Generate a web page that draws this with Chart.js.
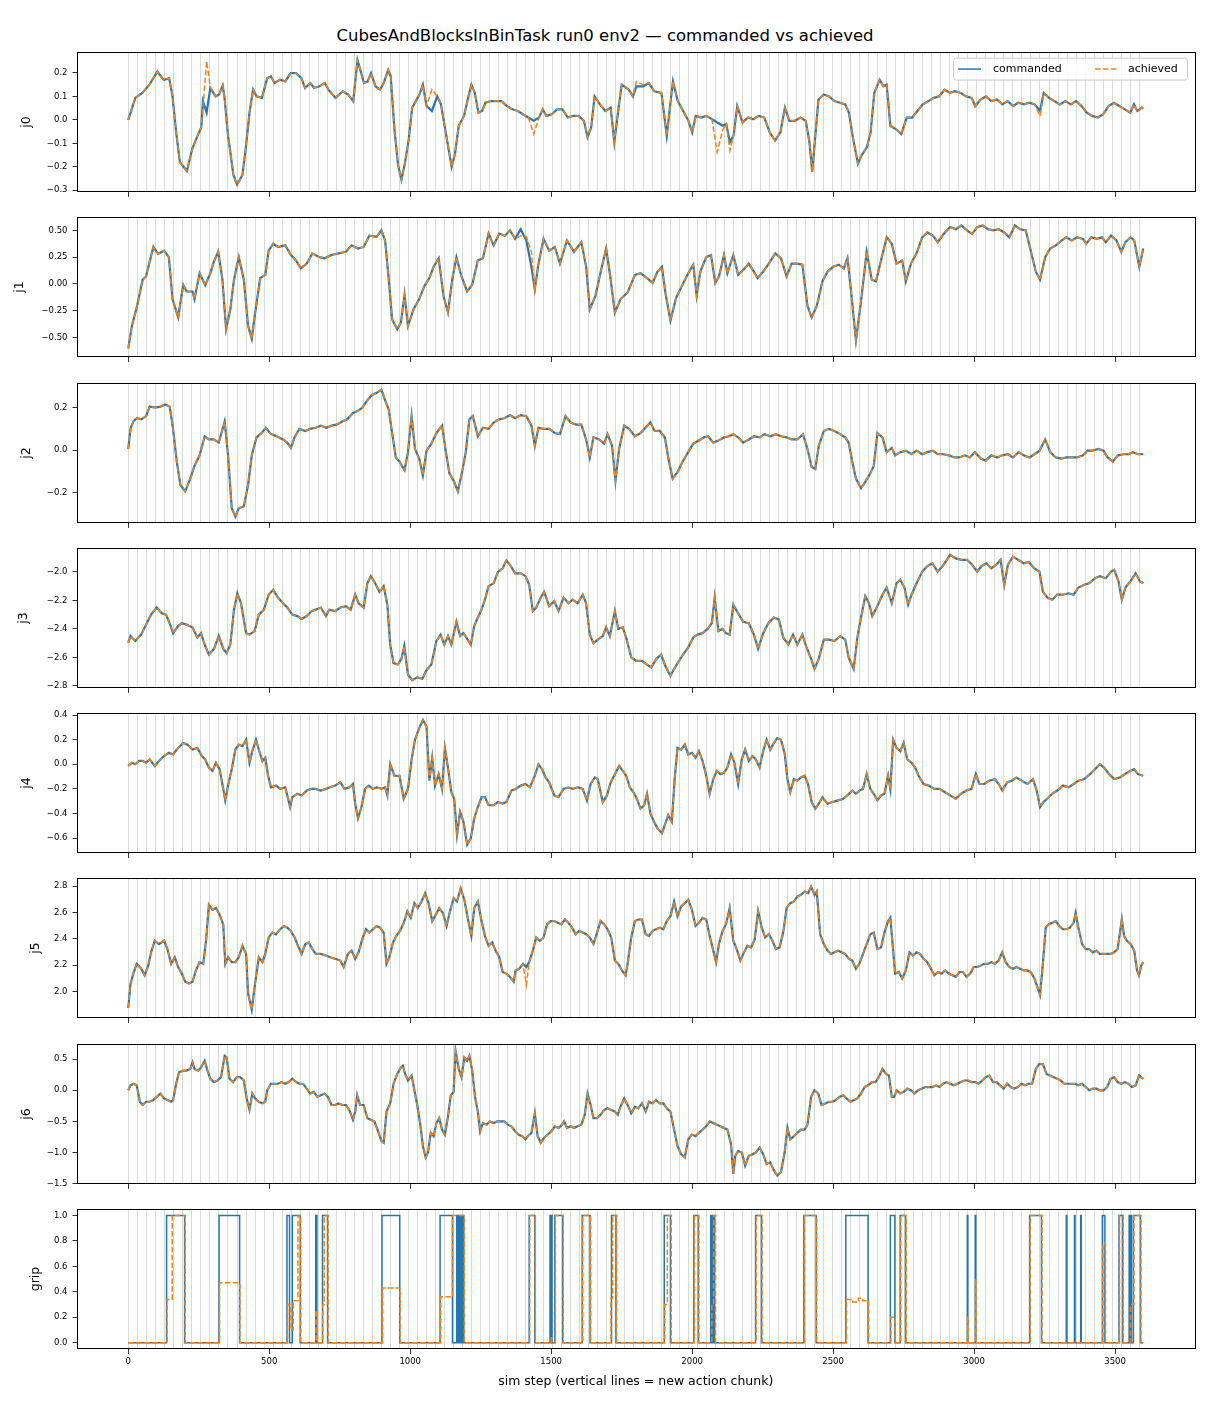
<!DOCTYPE html>
<html>
<head>
<meta charset="utf-8">
<script src="https://cdn.jsdelivr.net/npm/chart.js@4.4.1/dist/chart.umd.min.js"></script>
<style>
  body { margin: 0; background: #fff; }
  #fig { position: relative; width: 1210px; height: 1408px; font-family: 'DejaVu Sans', sans-serif; }
  #title { position: absolute; left: 0; top: 25px; width: 1210px; text-align: center; font-size: 16.5px; line-height: 22px; color: #000; }
  .panel { position: absolute; left: 0; width: 1210px; }
</style>
</head>
<body>
<div id="fig">
  <div id="title">CubesAndBlocksInBinTask run0 env2 — commanded vs achieved</div>
</div>
<script>
// x axis
const xTicks = [0, 500, 1000, 1500, 2000, 2500, 3000, 3500];
const chunkLen = 32;      // a new action chunk every 32 sim steps
const lastStep = 3600;

// [sim step, value]
const j0Commanded = [[0,0],[25,0.094],[50,0.115],[75,0.15],[103,0.206],[126,0.17],[145,0.178],[157,0.1],[170,-0.053],[183,-0.18],[208,-0.218],[227,-0.123],[246,-0.067],[259,-0.032],[265,0.08],[278,0.031],[291,0.136],[310,0.1],[322,0.108],[335,0.146],[341,0.1],[354,-0.067],[373,-0.235],[386,-0.275],[405,-0.235],[418,-0.109],[430,0.031],[443,0.129],[455,0.1],[474,0.094],[493,0.178],[506,0.185],[519,0.157],[538,0.171],[557,0.164],[576,0.199],[595,0.199],[614,0.178],[627,0.136],[646,0.157],[659,0.136],[678,0.143],[697,0.157],[710,0.129],[735,0.094],[761,0.122],[780,0.108],[798,0.08],[813,0.255],[823,0.213],[836,0.157],[849,0.164],[861,0.199],[877,0.143],[893,0.129],[906,0.157],[922,0.213],[931,0.185],[944,-0.039],[957,-0.193],[969,-0.256],[982,-0.18],[995,-0.081],[1007,0.052],[1020,0.08],[1033,0.108],[1045,0.15],[1058,0.059],[1077,0.038],[1096,0.1],[1109,0.066],[1122,-0.025],[1134,-0.109],[1147,-0.2],[1159,-0.144],[1172,-0.025],[1191,0.017],[1204,0.087],[1217,0.15],[1229,0.115],[1242,0.031],[1255,0.038],[1267,0.073],[1286,0.08],[1305,0.08],[1324,0.08],[1343,0.059],[1362,0.045],[1382,0.038],[1400,0.024],[1419,0.01],[1438,-0.004],[1457,0.01],[1470,0.045],[1483,0.017],[1502,0.024],[1521,0.045],[1540,0.045],[1559,0.01],[1578,0.017],[1597,0.017],[1616,-0.004],[1629,-0.074],[1642,-0.032],[1654,0.1],[1673,0.066],[1692,0.038],[1711,0.052],[1724,-0.095],[1737,0.031],[1750,0.15],[1775,0.129],[1790,0.1],[1802,0.143],[1827,0.143],[1846,0.157],[1866,0.122],[1891,0.115],[1910,-0.067],[1923,0.073],[1932,0.164],[1949,0.08],[1968,0.038],[1987,-0.004],[2000,-0.053],[2013,0.017],[2032,0.01],[2051,0.017],[2070,0.003],[2089,-0.011],[2109,-0.025],[2121,-0.018],[2134,-0.095],[2147,-0.067],[2160,0.059],[2179,-0.011],[2198,0.01],[2217,0.003],[2236,0.017],[2256,0.01],[2275,-0.053],[2294,-0.088],[2313,-0.053],[2329,0.052],[2345,-0.004],[2364,-0.004],[2384,0.01],[2403,-0.004],[2416,-0.095],[2426,-0.221],[2439,-0.039],[2448,0.087],[2467,0.108],[2486,0.1],[2505,0.08],[2524,0.073],[2543,0.066],[2556,0.031],[2569,-0.067],[2588,-0.186],[2601,-0.151],[2620,-0.116],[2633,-0.053],[2646,0.115],[2665,0.171],[2678,0.143],[2690,0.15],[2703,-0.025],[2722,-0.039],[2742,-0.06],[2761,0.01],[2780,0.01],[2799,0.038],[2818,0.066],[2838,0.08],[2857,0.094],[2876,0.1],[2895,0.129],[2914,0.115],[2933,0.122],[2953,0.115],[2972,0.1],[2991,0.094],[3004,0.059],[3023,0.087],[3042,0.1],[3061,0.08],[3081,0.087],[3100,0.066],[3119,0.08],[3138,0.059],[3157,0.073],[3177,0.066],[3196,0.073],[3215,0.066],[3234,0.038],[3247,0.115],[3266,0.094],[3285,0.08],[3304,0.066],[3324,0.08],[3343,0.066],[3362,0.08],[3381,0.059],[3400,0.031],[3419,0.017],[3439,0.01],[3458,0.024],[3477,0.059],[3496,0.073],[3515,0.059],[3535,0.045],[3554,0.031],[3567,0.066],[3579,0.038],[3595,0.052],[3600,0.048]];
const j0Achieved = [[0,0],[25,0.094],[50,0.115],[75,0.15],[103,0.206],[126,0.17],[145,0.178],[157,0.1],[170,-0.053],[183,-0.18],[208,-0.218],[227,-0.123],[246,-0.067],[259,-0.032],[265,0.05],[278,0.25],[291,0.14],[310,0.1],[322,0.108],[335,0.146],[341,0.1],[354,-0.067],[373,-0.235],[386,-0.275],[405,-0.235],[418,-0.109],[430,0.031],[443,0.129],[455,0.1],[474,0.094],[493,0.178],[506,0.185],[519,0.157],[538,0.171],[557,0.164],[576,0.199],[595,0.199],[614,0.178],[627,0.136],[646,0.157],[659,0.136],[678,0.143],[697,0.157],[710,0.129],[735,0.094],[761,0.122],[780,0.108],[798,0.08],[813,0.255],[823,0.213],[836,0.157],[849,0.164],[861,0.199],[877,0.143],[893,0.129],[906,0.157],[922,0.213],[931,0.185],[944,-0.039],[957,-0.193],[969,-0.256],[982,-0.18],[995,-0.081],[1007,0.052],[1020,0.08],[1033,0.108],[1045,0.15],[1058,0.059],[1077,0.13],[1096,0.1],[1109,0.066],[1122,-0.025],[1134,-0.109],[1147,-0.2],[1159,-0.144],[1172,-0.025],[1191,0.017],[1204,0.087],[1217,0.15],[1229,0.115],[1242,0.031],[1255,0.038],[1267,0.073],[1286,0.08],[1305,0.08],[1324,0.08],[1343,0.059],[1362,0.045],[1382,0.038],[1400,0.024],[1419,0.01],[1438,-0.06],[1457,0.01],[1470,0.045],[1483,0.017],[1502,0.024],[1521,0.045],[1540,0.045],[1559,0.01],[1578,0.017],[1597,0.017],[1616,-0.004],[1629,-0.074],[1642,-0.032],[1654,0.1],[1673,0.066],[1692,0.038],[1711,0.052],[1724,-0.095],[1737,0.031],[1750,0.15],[1775,0.129],[1790,0.1],[1802,0.163],[1827,0.15],[1846,0.157],[1866,0.122],[1891,0.115],[1910,-0.067],[1923,0.073],[1932,0.164],[1949,0.08],[1968,0.038],[1987,-0.004],[2000,-0.053],[2013,0.017],[2032,0.01],[2051,0.017],[2070,0.003],[2089,-0.137],[2109,-0.04],[2121,-0.018],[2134,-0.13],[2147,-0.067],[2160,0.059],[2179,-0.011],[2198,0.01],[2217,0.003],[2236,0.017],[2256,0.01],[2275,-0.053],[2294,-0.088],[2313,-0.053],[2329,0.052],[2345,-0.004],[2364,-0.004],[2384,0.01],[2403,-0.004],[2416,-0.095],[2426,-0.221],[2439,-0.039],[2448,0.087],[2467,0.108],[2486,0.1],[2505,0.08],[2524,0.073],[2543,0.066],[2556,0.031],[2569,-0.067],[2588,-0.186],[2601,-0.151],[2620,-0.116],[2633,-0.053],[2646,0.115],[2665,0.171],[2678,0.143],[2690,0.15],[2703,-0.025],[2722,-0.039],[2742,-0.06],[2761,0.01],[2780,0.01],[2799,0.038],[2818,0.066],[2838,0.08],[2857,0.094],[2876,0.1],[2895,0.129],[2914,0.115],[2933,0.122],[2953,0.115],[2972,0.1],[2991,0.094],[3004,0.059],[3023,0.087],[3042,0.1],[3061,0.08],[3081,0.087],[3100,0.066],[3119,0.08],[3138,0.059],[3157,0.073],[3177,0.066],[3196,0.073],[3215,0.066],[3234,0.017],[3247,0.115],[3266,0.094],[3285,0.08],[3304,0.066],[3324,0.08],[3343,0.066],[3362,0.08],[3381,0.059],[3400,0.031],[3419,0.017],[3439,0.01],[3458,0.024],[3477,0.059],[3496,0.073],[3515,0.059],[3535,0.045],[3554,0.031],[3567,0.066],[3579,0.038],[3595,0.052],[3600,0.048]];

const j1Commanded = [[0,-0.6],[13,-0.39],[30,-0.22],[51,0.04],[63,0.07],[76,0.21],[89,0.345],[106,0.28],[127,0.31],[144,0.25],[157,-0.14],[177,-0.31],[195,-0.01],[207,-0.07],[228,-0.07],[235,-0.14],[253,0.1],[273,-0.01],[291,0.1],[304,0.21],[319,0.3],[334,0.04],[347,-0.42],[362,-0.235],[375,0.04],[392,0.25],[410,0.04],[425,-0.39],[438,-0.51],[450,-0.27],[468,0.055],[486,0.085],[498,0.31],[514,0.375],[531,0.345],[557,0.36],[577,0.27],[595,0.22],[612,0.145],[633,0.19],[653,0.285],[678,0.25],[696,0.24],[721,0.27],[746,0.285],[772,0.3],[792,0.36],[815,0.33],[835,0.345],[855,0.45],[881,0.44],[898,0.5],[911,0.405],[924,0.04],[936,-0.33],[954,-0.42],[967,-0.36],[980,-0.1],[992,-0.39],[1012,-0.235],[1032,-0.14],[1050,-0.02],[1068,0.055],[1083,0.16],[1101,0.24],[1118,-0.11],[1134,-0.265],[1149,0.04],[1164,0.25],[1182,0.07],[1202,-0.07],[1220,-0.006],[1240,0.22],[1258,0.24],[1278,0.47],[1296,0.36],[1316,0.47],[1336,0.45],[1354,0.5],[1372,0.42],[1392,0.51],[1412,0.405],[1430,0.16],[1442,-0.05],[1455,0.19],[1473,0.42],[1493,0.31],[1513,0.345],[1531,0.19],[1556,0.405],[1581,0.3],[1607,0.39],[1624,0.16],[1637,-0.235],[1657,-0.11],[1677,0.13],[1695,0.33],[1708,0.1],[1726,-0.265],[1746,-0.14],[1771,-0.08],[1797,0.085],[1817,0.1],[1840,0.055],[1860,0.01],[1877,0.115],[1893,0.16],[1905,-0.08],[1923,-0.34],[1943,-0.13],[1966,-0.006],[1986,0.1],[2004,0.18],[2016,-0.11],[2029,0.115],[2050,0.25],[2067,0.27],[2082,0.01],[2095,0.07],[2113,0.27],[2125,0.1],[2146,0.27],[2163,0.085],[2181,0.13],[2201,0.19],[2219,0.115],[2232,0.055],[2252,0.115],[2272,0.19],[2295,0.285],[2315,0.24],[2335,0.07],[2353,0.19],[2373,0.19],[2391,0.18],[2409,-0.205],[2424,-0.31],[2442,-0.205],[2462,0.025],[2480,0.115],[2500,0.16],[2520,0.18],[2538,0.145],[2551,0.24],[2563,-0.05],[2581,-0.525],[2599,-0.16],[2619,0.3],[2637,0.04],[2652,0.025],[2670,0.22],[2690,0.435],[2708,0.375],[2725,0.19],[2745,0.22],[2758,0.025],[2776,0.19],[2796,0.285],[2816,0.435],[2834,0.48],[2854,0.45],[2871,0.39],[2892,0.465],[2915,0.53],[2935,0.51],[2955,0.545],[2975,0.5],[2993,0.465],[3011,0.53],[3031,0.545],[3049,0.51],[3069,0.5],[3087,0.51],[3107,0.48],[3125,0.435],[3145,0.545],[3163,0.51],[3183,0.5],[3201,0.31],[3219,0.115],[3234,0.04],[3252,0.25],[3270,0.33],[3290,0.36],[3310,0.405],[3327,0.435],[3347,0.405],[3365,0.435],[3386,0.42],[3398,0.375],[3416,0.435],[3436,0.42],[3454,0.435],[3467,0.39],[3486,0.45],[3505,0.405],[3522,0.3],[3537,0.39],[3555,0.435],[3568,0.405],[3586,0.16],[3600,0.33]];
const j1Achieved = [[0,-0.6],[13,-0.39],[30,-0.22],[51,0.04],[63,0.07],[76,0.21],[89,0.345],[106,0.28],[127,0.31],[144,0.25],[157,-0.14],[177,-0.31],[195,-0.01],[207,-0.07],[228,-0.07],[235,-0.14],[253,0.1],[273,-0.01],[291,0.1],[304,0.21],[319,0.3],[334,0.04],[347,-0.42],[362,-0.235],[375,0.04],[392,0.25],[410,0.04],[425,-0.39],[438,-0.51],[450,-0.27],[468,0.055],[486,0.085],[498,0.31],[514,0.375],[531,0.345],[557,0.36],[577,0.27],[595,0.22],[612,0.145],[633,0.19],[653,0.285],[678,0.25],[696,0.24],[721,0.27],[746,0.285],[772,0.3],[792,0.36],[815,0.33],[835,0.345],[855,0.45],[881,0.44],[898,0.5],[911,0.405],[924,0.04],[936,-0.33],[954,-0.42],[967,-0.36],[980,-0.1],[992,-0.39],[1012,-0.235],[1032,-0.14],[1050,-0.02],[1068,0.055],[1083,0.16],[1101,0.24],[1118,-0.11],[1134,-0.265],[1149,0.04],[1164,0.25],[1182,0.07],[1202,-0.07],[1220,-0.006],[1240,0.22],[1258,0.24],[1278,0.47],[1296,0.36],[1316,0.47],[1336,0.45],[1354,0.5],[1372,0.42],[1392,0.45],[1412,0.44],[1430,0.3],[1442,-0.05],[1455,0.19],[1473,0.42],[1493,0.31],[1513,0.345],[1531,0.19],[1556,0.405],[1581,0.3],[1607,0.39],[1624,0.16],[1637,-0.235],[1657,-0.11],[1677,0.13],[1695,0.33],[1708,0.1],[1726,-0.265],[1746,-0.14],[1771,-0.08],[1797,0.085],[1817,0.1],[1840,0.055],[1860,0.01],[1877,0.115],[1893,0.16],[1905,-0.08],[1923,-0.34],[1943,-0.13],[1966,-0.006],[1986,0.1],[2004,0.18],[2016,-0.11],[2029,0.115],[2050,0.25],[2067,0.27],[2082,0.01],[2095,0.07],[2113,0.27],[2125,0.1],[2146,0.27],[2163,0.085],[2181,0.13],[2201,0.19],[2219,0.115],[2232,0.055],[2252,0.115],[2272,0.19],[2295,0.285],[2315,0.24],[2335,0.07],[2353,0.19],[2373,0.19],[2391,0.18],[2409,-0.205],[2424,-0.31],[2442,-0.205],[2462,0.025],[2480,0.115],[2500,0.16],[2520,0.18],[2538,0.145],[2551,0.24],[2563,-0.05],[2581,-0.525],[2599,-0.16],[2619,0.3],[2637,0.04],[2652,0.025],[2670,0.22],[2690,0.435],[2708,0.375],[2725,0.19],[2745,0.22],[2758,0.025],[2776,0.19],[2796,0.285],[2816,0.435],[2834,0.48],[2854,0.45],[2871,0.39],[2892,0.465],[2915,0.53],[2935,0.51],[2955,0.545],[2975,0.5],[2993,0.465],[3011,0.53],[3031,0.545],[3049,0.51],[3069,0.5],[3087,0.51],[3107,0.48],[3125,0.435],[3145,0.545],[3163,0.51],[3183,0.5],[3201,0.31],[3219,0.115],[3234,0.04],[3252,0.25],[3270,0.33],[3290,0.36],[3310,0.405],[3327,0.435],[3347,0.405],[3365,0.435],[3386,0.42],[3398,0.375],[3416,0.435],[3436,0.42],[3454,0.435],[3467,0.39],[3486,0.45],[3505,0.405],[3522,0.3],[3537,0.39],[3555,0.435],[3568,0.405],[3586,0.16],[3600,0.33]];

const j2Commanded = [[0,0.005],[8,0.1],[18,0.135],[30,0.15],[46,0.145],[63,0.16],[76,0.205],[96,0.2],[114,0.205],[132,0.215],[147,0.205],[159,0.1],[172,-0.055],[185,-0.165],[202,-0.195],[220,-0.135],[235,-0.075],[253,-0.025],[271,0.065],[286,0.05],[304,0.05],[321,0.035],[342,0.135],[354,-0.025],[367,-0.275],[380,-0.315],[392,-0.275],[410,-0.265],[425,-0.165],[438,-0.025],[455,0.06],[473,0.08],[488,0.105],[506,0.075],[526,0.065],[549,0.05],[564,0.035],[577,0.01],[590,0.06],[607,0.1],[628,0.09],[645,0.1],[665,0.105],[683,0.115],[703,0.105],[721,0.115],[739,0.12],[759,0.135],[777,0.145],[797,0.175],[815,0.185],[830,0.2],[848,0.235],[865,0.26],[881,0.27],[898,0.285],[911,0.235],[924,0.19],[936,0.08],[949,-0.035],[962,-0.055],[980,-0.095],[992,-0.01],[1005,0.16],[1017,0.005],[1032,-0.04],[1045,-0.12],[1058,-0.003],[1075,0.03],[1093,0.08],[1113,0.115],[1126,-0.003],[1139,-0.11],[1156,-0.15],[1169,-0.195],[1184,-0.105],[1197,-0.01],[1210,0.145],[1222,0.16],[1240,0.065],[1258,0.105],[1278,0.1],[1296,0.13],[1316,0.145],[1334,0.15],[1354,0.165],[1372,0.15],[1392,0.165],[1412,0.16],[1430,0.115],[1442,0.02],[1455,0.105],[1473,0.1],[1493,0.1],[1513,0.08],[1531,0.075],[1551,0.16],[1569,0.13],[1589,0.12],[1607,0.12],[1624,0.05],[1637,-0.035],[1650,0.06],[1670,0.05],[1688,0.03],[1700,0.075],[1716,0.02],[1728,-0.145],[1741,0.005],[1759,0.115],[1776,0.1],[1797,0.065],[1817,0.08],[1834,0.105],[1852,0.13],[1867,0.09],[1885,0.09],[1903,0.06],[1918,-0.055],[1931,-0.135],[1948,-0.105],[1966,-0.055],[1986,-0.01],[2004,0.03],[2024,0.045],[2042,0.06],[2057,0.065],[2075,0.035],[2093,0.045],[2113,0.06],[2131,0.065],[2146,0.075],[2163,0.06],[2181,0.035],[2201,0.05],[2219,0.065],[2239,0.06],[2257,0.075],[2277,0.065],[2297,0.075],[2315,0.065],[2335,0.06],[2353,0.05],[2373,0.05],[2393,0.075],[2409,0.005],[2424,-0.08],[2437,-0.09],[2449,0.02],[2467,0.09],[2485,0.1],[2505,0.09],[2525,0.075],[2543,0.06],[2555,0.035],[2568,-0.055],[2581,-0.135],[2599,-0.18],[2614,-0.15],[2632,-0.11],[2644,-0.075],[2657,0.08],[2675,0.06],[2690,-0.01],[2708,0.01],[2720,-0.025],[2738,-0.01],[2758,-0.003],[2778,-0.02],[2796,-0.003],[2816,-0.02],[2834,-0.01],[2854,-0.003],[2871,-0.02],[2892,-0.02],[2910,-0.025],[2930,-0.035],[2947,-0.035],[2968,-0.025],[2985,-0.035],[3003,-0.01],[3024,-0.04],[3041,-0.05],[3061,-0.025],[3082,-0.035],[3099,-0.025],[3120,-0.02],[3138,-0.035],[3158,-0.01],[3176,-0.025],[3196,-0.035],[3214,-0.02],[3232,-0.003],[3252,0.05],[3270,-0.01],[3290,-0.035],[3310,-0.04],[3327,-0.035],[3347,-0.035],[3365,-0.035],[3386,-0.025],[3403,-0.003],[3421,-0.003],[3441,0.005],[3459,-0.003],[3474,-0.035],[3492,-0.055],[3510,-0.025],[3530,-0.02],[3548,-0.02],[3563,-0.01],[3581,-0.02],[3600,-0.02]];
const j2Achieved = [[0,0.005],[8,0.1],[18,0.135],[30,0.15],[46,0.145],[63,0.16],[76,0.205],[96,0.2],[114,0.205],[132,0.215],[147,0.205],[159,0.1],[172,-0.055],[185,-0.165],[202,-0.195],[220,-0.135],[235,-0.075],[253,-0.025],[271,0.065],[286,0.05],[304,0.05],[321,0.035],[342,0.135],[354,-0.025],[367,-0.275],[380,-0.315],[392,-0.275],[410,-0.265],[425,-0.165],[438,-0.025],[455,0.06],[473,0.08],[488,0.105],[506,0.075],[526,0.065],[549,0.05],[564,0.035],[577,0.01],[590,0.06],[607,0.1],[628,0.09],[645,0.1],[665,0.105],[683,0.115],[703,0.105],[721,0.115],[739,0.12],[759,0.135],[777,0.145],[797,0.175],[815,0.185],[830,0.2],[848,0.235],[865,0.26],[881,0.27],[898,0.285],[911,0.235],[924,0.19],[936,0.08],[949,-0.035],[962,-0.055],[980,-0.095],[992,-0.01],[1005,0.16],[1017,0.005],[1032,-0.04],[1045,-0.12],[1058,-0.003],[1075,0.03],[1093,0.08],[1113,0.115],[1126,-0.003],[1139,-0.11],[1156,-0.15],[1169,-0.195],[1184,-0.105],[1197,-0.01],[1210,0.145],[1222,0.16],[1240,0.065],[1258,0.105],[1278,0.1],[1296,0.13],[1316,0.145],[1334,0.15],[1354,0.165],[1372,0.15],[1392,0.165],[1412,0.16],[1430,0.115],[1442,0.02],[1455,0.105],[1473,0.1],[1493,0.1],[1513,0.08],[1531,0.075],[1551,0.16],[1569,0.13],[1589,0.12],[1607,0.12],[1624,0.05],[1637,-0.035],[1650,0.06],[1670,0.05],[1688,0.03],[1700,0.075],[1716,0.02],[1728,-0.145],[1741,0.005],[1759,0.115],[1776,0.1],[1797,0.065],[1817,0.08],[1834,0.105],[1852,0.13],[1867,0.09],[1885,0.09],[1903,0.06],[1918,-0.055],[1931,-0.135],[1948,-0.105],[1966,-0.055],[1986,-0.01],[2004,0.03],[2024,0.045],[2042,0.06],[2057,0.065],[2075,0.035],[2093,0.045],[2113,0.06],[2131,0.065],[2146,0.075],[2163,0.06],[2181,0.035],[2201,0.05],[2219,0.065],[2239,0.06],[2257,0.075],[2277,0.065],[2297,0.075],[2315,0.065],[2335,0.06],[2353,0.05],[2373,0.05],[2393,0.075],[2409,0.005],[2424,-0.08],[2437,-0.09],[2449,0.02],[2467,0.09],[2485,0.1],[2505,0.09],[2525,0.075],[2543,0.06],[2555,0.035],[2568,-0.055],[2581,-0.135],[2599,-0.18],[2614,-0.15],[2632,-0.11],[2644,-0.075],[2657,0.08],[2675,0.06],[2690,-0.01],[2708,0.01],[2720,-0.025],[2738,-0.01],[2758,-0.003],[2778,-0.02],[2796,-0.003],[2816,-0.02],[2834,-0.01],[2854,-0.003],[2871,-0.02],[2892,-0.02],[2910,-0.025],[2930,-0.035],[2947,-0.035],[2968,-0.025],[2985,-0.035],[3003,-0.01],[3024,-0.04],[3041,-0.05],[3061,-0.025],[3082,-0.035],[3099,-0.025],[3120,-0.02],[3138,-0.035],[3158,-0.01],[3176,-0.025],[3196,-0.035],[3214,-0.02],[3232,-0.003],[3252,0.05],[3270,-0.01],[3290,-0.035],[3310,-0.04],[3327,-0.035],[3347,-0.035],[3365,-0.035],[3386,-0.025],[3403,-0.003],[3421,-0.003],[3441,0.005],[3459,-0.003],[3474,-0.035],[3492,-0.055],[3510,-0.025],[3530,-0.02],[3548,-0.02],[3563,-0.01],[3581,-0.02],[3600,-0.02]];

const j3Commanded = [[0,-2.497],[8,-2.45],[25,-2.485],[46,-2.44],[63,-2.37],[81,-2.3],[101,-2.25],[119,-2.29],[134,-2.3],[147,-2.36],[159,-2.43],[177,-2.38],[190,-2.36],[207,-2.37],[228,-2.39],[245,-2.46],[258,-2.43],[273,-2.52],[286,-2.58],[304,-2.54],[321,-2.45],[337,-2.54],[349,-2.57],[362,-2.51],[375,-2.265],[387,-2.15],[400,-2.22],[418,-2.43],[430,-2.44],[448,-2.415],[463,-2.3],[481,-2.265],[498,-2.16],[514,-2.125],[531,-2.18],[549,-2.22],[564,-2.25],[582,-2.3],[600,-2.31],[615,-2.33],[633,-2.31],[650,-2.275],[665,-2.265],[683,-2.25],[701,-2.31],[713,-2.265],[734,-2.275],[752,-2.25],[772,-2.24],[789,-2.265],[805,-2.16],[817,-2.22],[835,-2.25],[848,-2.08],[860,-2.03],[873,-2.07],[891,-2.14],[906,-2.1],[919,-2.23],[929,-2.51],[941,-2.64],[956,-2.65],[969,-2.61],[979,-2.52],[992,-2.72],[1007,-2.76],[1025,-2.74],[1043,-2.75],[1058,-2.69],[1075,-2.65],[1093,-2.485],[1108,-2.44],[1121,-2.51],[1134,-2.45],[1146,-2.51],[1164,-2.35],[1177,-2.45],[1189,-2.43],[1202,-2.47],[1215,-2.51],[1227,-2.38],[1240,-2.32],[1253,-2.265],[1265,-2.195],[1278,-2.1],[1296,-2.08],[1311,-2],[1328,-1.975],[1341,-1.92],[1354,-1.95],[1372,-2.01],[1392,-2.01],[1409,-2.03],[1422,-2.09],[1435,-2.275],[1447,-2.25],[1463,-2.18],[1475,-2.14],[1493,-2.24],[1511,-2.205],[1526,-2.275],[1544,-2.18],[1561,-2.22],[1576,-2.195],[1594,-2.22],[1612,-2.16],[1624,-2.22],[1637,-2.44],[1650,-2.5],[1665,-2.475],[1683,-2.45],[1695,-2.39],[1708,-2.45],[1726,-2.275],[1738,-2.4],[1754,-2.39],[1766,-2.46],[1784,-2.6],[1802,-2.625],[1822,-2.625],[1840,-2.65],[1855,-2.67],[1873,-2.61],[1890,-2.58],[1905,-2.66],[1923,-2.73],[1936,-2.68],[1953,-2.625],[1968,-2.58],[1986,-2.53],[2004,-2.46],[2019,-2.44],[2037,-2.43],[2055,-2.4],[2070,-2.36],[2080,-2.18],[2093,-2.415],[2108,-2.4],[2120,-2.43],[2133,-2.44],[2146,-2.23],[2163,-2.29],[2181,-2.35],[2201,-2.36],[2219,-2.44],[2234,-2.54],[2252,-2.43],[2270,-2.36],[2290,-2.32],[2308,-2.335],[2323,-2.46],[2341,-2.51],[2358,-2.44],[2373,-2.51],[2391,-2.44],[2404,-2.52],[2422,-2.61],[2434,-2.68],[2449,-2.61],[2467,-2.475],[2485,-2.475],[2505,-2.485],[2525,-2.45],[2543,-2.475],[2555,-2.6],[2573,-2.68],[2586,-2.46],[2599,-2.32],[2614,-2.17],[2627,-2.22],[2639,-2.31],[2657,-2.24],[2675,-2.16],[2690,-2.11],[2708,-2.22],[2725,-2.08],[2738,-2.055],[2753,-2.11],[2766,-2.23],[2778,-2.16],[2796,-2.08],[2816,-1.998],[2834,-1.96],[2852,-1.94],[2871,-1.998],[2892,-1.95],[2915,-1.88],[2935,-1.905],[2955,-1.915],[2975,-1.915],[2993,-1.95],[3011,-1.998],[3026,-1.96],[3044,-1.94],[3061,-1.975],[3079,-1.95],[3094,-1.915],[3107,-2.09],[3120,-1.95],[3138,-1.893],[3156,-1.915],[3176,-1.94],[3194,-1.93],[3214,-1.975],[3232,-1.998],[3244,-2.14],[3260,-2.18],[3277,-2.195],[3295,-2.16],[3315,-2.16],[3335,-2.15],[3353,-2.16],[3370,-2.11],[3391,-2.09],[3408,-2.08],[3429,-2.045],[3446,-2.03],[3467,-2.045],[3486,-1.998],[3497,-1.986],[3512,-2.065],[3524,-2.195],[3537,-2.11],[3555,-2.065],[3573,-2.01],[3588,-2.065],[3600,-2.08]];
const j3Achieved = [[0,-2.497],[8,-2.45],[25,-2.485],[46,-2.44],[63,-2.37],[81,-2.3],[101,-2.25],[119,-2.29],[134,-2.3],[147,-2.36],[159,-2.43],[177,-2.38],[190,-2.36],[207,-2.37],[228,-2.39],[245,-2.46],[258,-2.43],[273,-2.52],[286,-2.58],[304,-2.54],[321,-2.45],[337,-2.54],[349,-2.57],[362,-2.51],[375,-2.265],[387,-2.15],[400,-2.22],[418,-2.43],[430,-2.44],[448,-2.415],[463,-2.3],[481,-2.265],[498,-2.16],[514,-2.125],[531,-2.18],[549,-2.22],[564,-2.25],[582,-2.3],[600,-2.31],[615,-2.33],[633,-2.31],[650,-2.275],[665,-2.265],[683,-2.25],[701,-2.31],[713,-2.265],[734,-2.275],[752,-2.25],[772,-2.24],[789,-2.265],[805,-2.16],[817,-2.22],[835,-2.25],[848,-2.08],[860,-2.03],[873,-2.07],[891,-2.14],[906,-2.1],[919,-2.23],[929,-2.51],[941,-2.64],[956,-2.65],[969,-2.61],[979,-2.52],[992,-2.72],[1007,-2.76],[1025,-2.74],[1043,-2.75],[1058,-2.69],[1075,-2.65],[1093,-2.485],[1108,-2.44],[1121,-2.51],[1134,-2.45],[1146,-2.51],[1164,-2.35],[1177,-2.45],[1189,-2.43],[1202,-2.47],[1215,-2.51],[1227,-2.38],[1240,-2.32],[1253,-2.265],[1265,-2.195],[1278,-2.1],[1296,-2.08],[1311,-2],[1328,-1.975],[1341,-1.92],[1354,-1.95],[1372,-2.01],[1392,-2.01],[1409,-2.03],[1422,-2.09],[1435,-2.275],[1447,-2.25],[1463,-2.18],[1475,-2.14],[1493,-2.24],[1511,-2.205],[1526,-2.275],[1544,-2.18],[1561,-2.22],[1576,-2.195],[1594,-2.22],[1612,-2.16],[1624,-2.22],[1637,-2.44],[1650,-2.5],[1665,-2.475],[1683,-2.45],[1695,-2.39],[1708,-2.45],[1726,-2.275],[1738,-2.4],[1754,-2.39],[1766,-2.46],[1784,-2.6],[1802,-2.625],[1822,-2.625],[1840,-2.65],[1855,-2.67],[1873,-2.61],[1890,-2.58],[1905,-2.66],[1923,-2.73],[1936,-2.68],[1953,-2.625],[1968,-2.58],[1986,-2.53],[2004,-2.46],[2019,-2.44],[2037,-2.43],[2055,-2.4],[2070,-2.36],[2080,-2.18],[2093,-2.415],[2108,-2.4],[2120,-2.43],[2133,-2.44],[2146,-2.23],[2163,-2.29],[2181,-2.35],[2201,-2.36],[2219,-2.44],[2234,-2.54],[2252,-2.43],[2270,-2.36],[2290,-2.32],[2308,-2.335],[2323,-2.46],[2341,-2.51],[2358,-2.44],[2373,-2.51],[2391,-2.44],[2404,-2.52],[2422,-2.61],[2434,-2.68],[2449,-2.61],[2467,-2.475],[2485,-2.475],[2505,-2.485],[2525,-2.45],[2543,-2.475],[2555,-2.6],[2573,-2.68],[2586,-2.46],[2599,-2.32],[2614,-2.17],[2627,-2.22],[2639,-2.31],[2657,-2.24],[2675,-2.16],[2690,-2.11],[2708,-2.22],[2725,-2.08],[2738,-2.055],[2753,-2.11],[2766,-2.23],[2778,-2.16],[2796,-2.08],[2816,-1.998],[2834,-1.96],[2852,-1.94],[2871,-1.998],[2892,-1.95],[2915,-1.88],[2935,-1.905],[2955,-1.915],[2975,-1.915],[2993,-1.95],[3011,-1.998],[3026,-1.96],[3044,-1.94],[3061,-1.975],[3079,-1.95],[3094,-1.915],[3107,-2.09],[3120,-1.95],[3138,-1.893],[3156,-1.915],[3176,-1.94],[3194,-1.93],[3214,-1.975],[3232,-1.998],[3244,-2.14],[3260,-2.18],[3277,-2.195],[3295,-2.16],[3315,-2.16],[3335,-2.15],[3353,-2.16],[3370,-2.11],[3391,-2.09],[3408,-2.08],[3429,-2.045],[3446,-2.03],[3467,-2.045],[3486,-1.998],[3497,-1.986],[3512,-2.065],[3524,-2.195],[3537,-2.11],[3555,-2.065],[3573,-2.01],[3588,-2.065],[3600,-2.08]];

const j4Commanded = [[0,-0.013],[13,0.013],[25,0],[38,0.027],[51,0.027],[63,0.013],[76,0.04],[94,-0.013],[109,0.027],[127,0.067],[144,0.093],[159,0.08],[177,0.133],[195,0.173],[210,0.16],[228,0.12],[245,0.133],[261,0.067],[273,0.04],[286,-0.027],[299,-0.053],[311,0.013],[324,-0.04],[337,-0.2],[344,-0.293],[354,-0.173],[367,-0.04],[380,0.12],[392,0.16],[405,0.147],[418,0.2],[430,0.013],[440,0.107],[453,0.2],[463,0.12],[476,0.027],[486,0.053],[496,-0.093],[506,-0.187],[524,-0.173],[539,-0.2],[557,-0.187],[574,-0.347],[582,-0.267],[600,-0.24],[615,-0.253],[633,-0.213],[650,-0.2],[665,-0.2],[683,-0.213],[701,-0.2],[716,-0.187],[734,-0.173],[752,-0.147],[767,-0.2],[785,-0.187],[797,-0.16],[805,-0.32],[815,-0.44],[827,-0.347],[840,-0.2],[853,-0.173],[868,-0.2],[881,-0.187],[898,-0.2],[911,-0.187],[919,-0.253],[929,0],[944,-0.093],[962,-0.093],[977,-0.28],[992,-0.2],[1005,0.04],[1017,0.2],[1032,0.293],[1045,0.36],[1058,0.307],[1068,-0.133],[1078,0.053],[1088,-0.173],[1101,-0.08],[1113,-0.2],[1123,0.133],[1134,-0.027],[1146,-0.227],[1156,-0.28],[1166,-0.573],[1177,-0.387],[1189,-0.467],[1202,-0.653],[1215,-0.6],[1227,-0.44],[1240,-0.347],[1253,-0.267],[1265,-0.267],[1278,-0.333],[1296,-0.333],[1311,-0.307],[1328,-0.32],[1341,-0.307],[1359,-0.213],[1374,-0.2],[1392,-0.173],[1409,-0.16],[1425,-0.187],[1442,-0.093],[1455,0],[1468,-0.04],[1480,-0.107],[1493,-0.147],[1511,-0.253],[1526,-0.267],[1544,-0.2],[1561,-0.187],[1576,-0.2],[1594,-0.187],[1612,-0.2],[1627,-0.293],[1640,-0.16],[1655,-0.107],[1665,-0.12],[1683,-0.307],[1698,-0.253],[1711,-0.147],[1726,-0.08],[1741,-0.013],[1754,-0.053],[1766,-0.093],[1779,-0.187],[1792,-0.227],[1804,-0.28],[1817,-0.36],[1830,-0.333],[1840,-0.24],[1852,-0.4],[1865,-0.467],[1877,-0.52],[1893,-0.56],[1905,-0.48],[1915,-0.413],[1928,-0.467],[1938,-0.12],[1948,0.133],[1961,0.12],[1974,0.16],[1986,0.08],[1999,0.093],[2012,0.053],[2024,0.107],[2037,0.027],[2050,-0.093],[2062,-0.24],[2075,-0.12],[2088,-0.053],[2100,-0.08],[2113,-0.067],[2125,-0.027],[2138,0.08],[2150,0.013],[2163,-0.16],[2176,0.04],[2188,0.12],[2201,0.027],[2214,0.067],[2226,0.04],[2239,-0.027],[2252,0.107],[2264,0.2],[2277,0.12],[2290,0.173],[2302,0.213],[2315,0.2],[2328,0.093],[2338,-0.12],[2348,-0.227],[2361,-0.12],[2373,-0.133],[2386,-0.107],[2399,-0.093],[2411,-0.16],[2424,-0.307],[2437,-0.36],[2449,-0.32],[2462,-0.267],[2480,-0.32],[2498,-0.307],[2518,-0.293],[2536,-0.28],[2556,-0.24],[2568,-0.213],[2581,-0.24],[2594,-0.213],[2606,-0.2],[2619,-0.08],[2632,-0.2],[2644,-0.24],[2657,-0.293],[2670,-0.253],[2682,-0.24],[2695,-0.093],[2703,-0.2],[2713,0.2],[2725,0.133],[2738,0.107],[2750,0.173],[2763,0.04],[2778,0.013],[2791,-0.027],[2803,-0.093],[2821,-0.16],[2839,-0.173],[2859,-0.2],[2877,-0.2],[2897,-0.227],[2915,-0.253],[2935,-0.28],[2953,-0.24],[2973,-0.213],[2991,-0.2],[3006,-0.08],[3019,-0.16],[3036,-0.16],[3054,-0.133],[3074,-0.12],[3087,-0.16],[3100,-0.213],[3117,-0.147],[3133,-0.133],[3150,-0.107],[3168,-0.133],[3189,-0.16],[3209,-0.12],[3222,-0.213],[3234,-0.347],[3246,-0.307],[3259,-0.28],[3277,-0.24],[3295,-0.213],[3315,-0.173],[3335,-0.187],[3353,-0.16],[3370,-0.133],[3391,-0.12],[3411,-0.08],[3429,-0.04],[3446,0],[3461,-0.027],[3479,-0.08],[3497,-0.12],[3517,-0.107],[3535,-0.08],[3555,-0.053],[3568,-0.04],[3581,-0.08],[3600,-0.093]];
const j4Achieved = [[0,-0.013],[13,0.013],[25,0],[38,0.027],[51,0.027],[63,0.013],[76,0.04],[94,-0.013],[109,0.027],[127,0.067],[144,0.093],[159,0.08],[177,0.133],[195,0.173],[210,0.16],[228,0.12],[245,0.133],[261,0.067],[273,0.04],[286,-0.027],[299,-0.053],[311,0.013],[324,-0.04],[337,-0.2],[344,-0.293],[354,-0.173],[367,-0.04],[380,0.12],[392,0.16],[405,0.147],[418,0.2],[430,0.013],[440,0.107],[453,0.2],[463,0.12],[476,0.027],[486,0.053],[496,-0.093],[506,-0.187],[524,-0.173],[539,-0.2],[557,-0.187],[574,-0.347],[582,-0.267],[600,-0.24],[615,-0.253],[633,-0.213],[650,-0.2],[665,-0.2],[683,-0.213],[701,-0.2],[716,-0.187],[734,-0.173],[752,-0.147],[767,-0.2],[785,-0.187],[797,-0.16],[805,-0.32],[815,-0.44],[827,-0.347],[840,-0.2],[853,-0.173],[868,-0.2],[881,-0.187],[898,-0.2],[911,-0.187],[919,-0.253],[929,0],[944,-0.093],[962,-0.093],[977,-0.28],[992,-0.2],[1005,0.04],[1017,0.2],[1032,0.293],[1045,0.36],[1058,0.307],[1068,-0.133],[1078,0.053],[1088,-0.173],[1101,-0.08],[1113,-0.2],[1123,0.133],[1134,-0.027],[1146,-0.227],[1156,-0.28],[1166,-0.573],[1177,-0.387],[1189,-0.467],[1202,-0.653],[1215,-0.6],[1227,-0.44],[1240,-0.347],[1253,-0.267],[1265,-0.267],[1278,-0.333],[1296,-0.333],[1311,-0.307],[1328,-0.32],[1341,-0.307],[1359,-0.213],[1374,-0.2],[1392,-0.173],[1409,-0.16],[1425,-0.187],[1442,-0.093],[1455,0],[1468,-0.04],[1480,-0.107],[1493,-0.147],[1511,-0.253],[1526,-0.267],[1544,-0.2],[1561,-0.187],[1576,-0.2],[1594,-0.187],[1612,-0.2],[1627,-0.293],[1640,-0.16],[1655,-0.107],[1665,-0.12],[1683,-0.307],[1698,-0.253],[1711,-0.147],[1726,-0.08],[1741,-0.013],[1754,-0.053],[1766,-0.093],[1779,-0.187],[1792,-0.227],[1804,-0.28],[1817,-0.36],[1830,-0.333],[1840,-0.24],[1852,-0.4],[1865,-0.467],[1877,-0.52],[1893,-0.56],[1905,-0.48],[1915,-0.413],[1928,-0.467],[1938,-0.12],[1948,0.133],[1961,0.12],[1974,0.16],[1986,0.08],[1999,0.093],[2012,0.053],[2024,0.107],[2037,0.027],[2050,-0.093],[2062,-0.24],[2075,-0.12],[2088,-0.053],[2100,-0.08],[2113,-0.067],[2125,-0.027],[2138,0.08],[2150,0.013],[2163,-0.16],[2176,0.04],[2188,0.12],[2201,0.027],[2214,0.067],[2226,0.04],[2239,-0.027],[2252,0.107],[2264,0.2],[2277,0.12],[2290,0.173],[2302,0.213],[2315,0.2],[2328,0.093],[2338,-0.12],[2348,-0.227],[2361,-0.12],[2373,-0.133],[2386,-0.107],[2399,-0.093],[2411,-0.16],[2424,-0.307],[2437,-0.36],[2449,-0.32],[2462,-0.267],[2480,-0.32],[2498,-0.307],[2518,-0.293],[2536,-0.28],[2556,-0.24],[2568,-0.213],[2581,-0.24],[2594,-0.213],[2606,-0.2],[2619,-0.08],[2632,-0.2],[2644,-0.24],[2657,-0.293],[2670,-0.253],[2682,-0.24],[2695,-0.093],[2703,-0.2],[2713,0.2],[2725,0.133],[2738,0.107],[2750,0.173],[2763,0.04],[2778,0.013],[2791,-0.027],[2803,-0.093],[2821,-0.16],[2839,-0.173],[2859,-0.2],[2877,-0.2],[2897,-0.227],[2915,-0.253],[2935,-0.28],[2953,-0.24],[2973,-0.213],[2991,-0.2],[3006,-0.08],[3019,-0.16],[3036,-0.16],[3054,-0.133],[3074,-0.12],[3087,-0.16],[3100,-0.213],[3117,-0.147],[3133,-0.133],[3150,-0.107],[3168,-0.133],[3189,-0.16],[3209,-0.12],[3222,-0.213],[3234,-0.347],[3246,-0.307],[3259,-0.28],[3277,-0.24],[3295,-0.213],[3315,-0.173],[3335,-0.187],[3353,-0.16],[3370,-0.133],[3391,-0.12],[3411,-0.08],[3429,-0.04],[3446,0],[3461,-0.027],[3479,-0.08],[3497,-0.12],[3517,-0.107],[3535,-0.08],[3555,-0.053],[3568,-0.04],[3581,-0.08],[3600,-0.093]];

const j5Commanded = [[0,1.875],[8,2.06],[18,2.136],[30,2.21],[46,2.173],[58,2.123],[71,2.198],[81,2.297],[94,2.385],[109,2.36],[127,2.385],[139,2.322],[152,2.21],[165,2.26],[177,2.186],[190,2.136],[202,2.074],[215,2.061],[228,2.074],[240,2.16],[253,2.223],[266,2.21],[276,2.385],[286,2.658],[299,2.62],[311,2.633],[324,2.583],[337,2.509],[344,2.21],[354,2.26],[367,2.223],[380,2.223],[392,2.26],[405,2.347],[418,2.285],[425,1.986],[438,1.862],[450,2.061],[463,2.26],[476,2.223],[486,2.285],[498,2.41],[511,2.447],[524,2.434],[539,2.472],[552,2.497],[564,2.484],[577,2.46],[590,2.41],[602,2.347],[615,2.285],[628,2.36],[640,2.372],[653,2.322],[665,2.285],[683,2.285],[701,2.273],[716,2.26],[734,2.248],[752,2.235],[764,2.186],[779,2.285],[792,2.31],[805,2.248],[817,2.297],[830,2.397],[843,2.472],[855,2.447],[868,2.472],[881,2.497],[893,2.484],[906,2.447],[916,2.21],[926,2.26],[939,2.372],[951,2.422],[964,2.46],[977,2.521],[990,2.608],[1002,2.559],[1015,2.67],[1027,2.633],[1040,2.683],[1053,2.745],[1065,2.67],[1078,2.534],[1091,2.583],[1103,2.633],[1116,2.596],[1129,2.497],[1141,2.608],[1154,2.708],[1166,2.683],[1179,2.783],[1192,2.696],[1204,2.559],[1217,2.422],[1227,2.633],[1240,2.683],[1253,2.534],[1265,2.422],[1278,2.347],[1291,2.372],[1303,2.31],[1316,2.26],[1328,2.148],[1341,2.136],[1354,2.111],[1367,2.074],[1374,2.16],[1387,2.173],[1400,2.21],[1412,2.186],[1422,2.223],[1435,2.31],[1447,2.41],[1460,2.385],[1473,2.41],[1485,2.509],[1498,2.534],[1511,2.534],[1523,2.521],[1536,2.509],[1549,2.546],[1561,2.521],[1574,2.484],[1587,2.434],[1599,2.46],[1612,2.447],[1624,2.434],[1637,2.41],[1650,2.36],[1663,2.447],[1675,2.534],[1688,2.509],[1700,2.472],[1713,2.41],[1726,2.235],[1738,2.21],[1751,2.16],[1764,2.123],[1771,2.21],[1784,2.41],[1797,2.534],[1809,2.546],[1822,2.546],[1835,2.434],[1847,2.422],[1860,2.46],[1872,2.472],[1885,2.484],[1898,2.472],[1910,2.534],[1923,2.571],[1936,2.683],[1948,2.571],[1961,2.646],[1974,2.67],[1986,2.696],[1999,2.621],[2012,2.497],[2024,2.521],[2037,2.559],[2050,2.546],[2062,2.422],[2075,2.31],[2085,2.223],[2095,2.36],[2108,2.46],[2120,2.509],[2133,2.633],[2146,2.385],[2158,2.322],[2171,2.235],[2184,2.297],[2196,2.347],[2209,2.334],[2222,2.397],[2234,2.608],[2247,2.484],[2259,2.41],[2272,2.434],[2285,2.385],[2297,2.322],[2310,2.334],[2323,2.447],[2335,2.633],[2348,2.67],[2361,2.683],[2373,2.72],[2386,2.733],[2399,2.758],[2411,2.745],[2422,2.795],[2434,2.733],[2442,2.758],[2454,2.434],[2467,2.36],[2480,2.31],[2492,2.285],[2505,2.297],[2518,2.31],[2530,2.297],[2543,2.285],[2556,2.248],[2568,2.235],[2581,2.173],[2593,2.21],[2606,2.285],[2619,2.36],[2632,2.434],[2644,2.447],[2657,2.322],[2670,2.334],[2682,2.447],[2695,2.534],[2703,2.559],[2713,2.31],[2720,2.136],[2733,2.148],[2745,2.099],[2758,2.16],[2771,2.297],[2783,2.273],[2796,2.297],[2808,2.285],[2821,2.248],[2834,2.223],[2847,2.173],[2859,2.123],[2872,2.148],[2885,2.136],[2897,2.16],[2910,2.136],[2923,2.123],[2935,2.111],[2948,2.148],[2961,2.148],[2973,2.111],[2986,2.136],[2999,2.186],[3011,2.186],[3024,2.198],[3036,2.21],[3049,2.21],[3062,2.223],[3074,2.21],[3087,2.235],[3100,2.297],[3112,2.223],[3125,2.186],[3138,2.173],[3150,2.186],[3163,2.173],[3176,2.16],[3188,2.16],[3201,2.148],[3214,2.099],[3226,2.024],[3234,1.974],[3244,2.21],[3254,2.484],[3264,2.509],[3277,2.521],[3290,2.534],[3302,2.497],[3315,2.472],[3327,2.472],[3340,2.484],[3353,2.521],[3360,2.596],[3370,2.484],[3383,2.36],[3396,2.322],[3408,2.322],[3421,2.297],[3434,2.31],[3446,2.285],[3459,2.285],[3472,2.285],[3484,2.285],[3497,2.297],[3509,2.322],[3524,2.546],[3532,2.422],[3542,2.385],[3555,2.36],[3568,2.31],[3578,2.16],[3585,2.123],[3593,2.198],[3600,2.223]];
const j5Achieved = [[0,1.875],[8,2.06],[18,2.136],[30,2.21],[46,2.173],[58,2.123],[71,2.198],[81,2.297],[94,2.385],[109,2.36],[127,2.385],[139,2.322],[152,2.21],[165,2.26],[177,2.186],[190,2.136],[202,2.074],[215,2.061],[228,2.074],[240,2.16],[253,2.223],[266,2.21],[276,2.385],[286,2.658],[299,2.62],[311,2.633],[324,2.583],[337,2.509],[344,2.21],[354,2.26],[367,2.223],[380,2.223],[392,2.26],[405,2.347],[418,2.285],[425,1.986],[438,1.862],[450,2.061],[463,2.26],[476,2.223],[486,2.285],[498,2.41],[511,2.447],[524,2.434],[539,2.472],[552,2.497],[564,2.484],[577,2.46],[590,2.41],[602,2.347],[615,2.285],[628,2.36],[640,2.372],[653,2.322],[665,2.285],[683,2.285],[701,2.273],[716,2.26],[734,2.248],[752,2.235],[764,2.186],[779,2.285],[792,2.31],[805,2.248],[817,2.297],[830,2.397],[843,2.472],[855,2.447],[868,2.472],[881,2.497],[893,2.484],[906,2.447],[916,2.21],[926,2.26],[939,2.372],[951,2.422],[964,2.46],[977,2.521],[990,2.608],[1002,2.559],[1015,2.67],[1027,2.633],[1040,2.683],[1053,2.745],[1065,2.67],[1078,2.534],[1091,2.583],[1103,2.633],[1116,2.596],[1129,2.497],[1141,2.608],[1154,2.708],[1166,2.683],[1179,2.783],[1192,2.696],[1204,2.559],[1217,2.422],[1227,2.633],[1240,2.683],[1253,2.534],[1265,2.422],[1278,2.347],[1291,2.372],[1303,2.31],[1316,2.26],[1328,2.148],[1341,2.136],[1354,2.111],[1367,2.074],[1374,2.16],[1387,2.173],[1400,2.21],[1412,2.05],[1422,2.223],[1435,2.31],[1447,2.41],[1460,2.385],[1473,2.41],[1485,2.509],[1498,2.534],[1511,2.534],[1523,2.521],[1536,2.509],[1549,2.546],[1561,2.521],[1574,2.484],[1587,2.434],[1599,2.46],[1612,2.447],[1624,2.434],[1637,2.41],[1650,2.36],[1663,2.447],[1675,2.534],[1688,2.509],[1700,2.472],[1713,2.41],[1726,2.235],[1738,2.21],[1751,2.16],[1764,2.123],[1771,2.21],[1784,2.41],[1797,2.534],[1809,2.546],[1822,2.546],[1835,2.434],[1847,2.422],[1860,2.46],[1872,2.472],[1885,2.484],[1898,2.472],[1910,2.534],[1923,2.571],[1936,2.683],[1948,2.571],[1961,2.646],[1974,2.67],[1986,2.696],[1999,2.621],[2012,2.497],[2024,2.521],[2037,2.559],[2050,2.546],[2062,2.422],[2075,2.31],[2085,2.223],[2095,2.36],[2108,2.46],[2120,2.509],[2133,2.633],[2146,2.385],[2158,2.322],[2171,2.235],[2184,2.297],[2196,2.347],[2209,2.334],[2222,2.397],[2234,2.608],[2247,2.484],[2259,2.41],[2272,2.434],[2285,2.385],[2297,2.322],[2310,2.334],[2323,2.447],[2335,2.633],[2348,2.67],[2361,2.683],[2373,2.72],[2386,2.733],[2399,2.758],[2411,2.745],[2422,2.795],[2434,2.733],[2442,2.758],[2454,2.434],[2467,2.36],[2480,2.31],[2492,2.285],[2505,2.297],[2518,2.31],[2530,2.297],[2543,2.285],[2556,2.248],[2568,2.235],[2581,2.173],[2593,2.21],[2606,2.285],[2619,2.36],[2632,2.434],[2644,2.447],[2657,2.322],[2670,2.334],[2682,2.447],[2695,2.534],[2703,2.559],[2713,2.31],[2720,2.136],[2733,2.148],[2745,2.099],[2758,2.16],[2771,2.297],[2783,2.273],[2796,2.297],[2808,2.285],[2821,2.248],[2834,2.223],[2847,2.173],[2859,2.123],[2872,2.148],[2885,2.136],[2897,2.16],[2910,2.136],[2923,2.123],[2935,2.111],[2948,2.148],[2961,2.148],[2973,2.111],[2986,2.136],[2999,2.186],[3011,2.186],[3024,2.198],[3036,2.21],[3049,2.21],[3062,2.223],[3074,2.21],[3087,2.235],[3100,2.297],[3112,2.223],[3125,2.186],[3138,2.173],[3150,2.186],[3163,2.173],[3176,2.16],[3188,2.16],[3201,2.148],[3214,2.099],[3226,2.024],[3234,1.974],[3244,2.21],[3254,2.484],[3264,2.509],[3277,2.521],[3290,2.534],[3302,2.497],[3315,2.472],[3327,2.472],[3340,2.484],[3353,2.521],[3360,2.596],[3370,2.484],[3383,2.36],[3396,2.322],[3408,2.322],[3421,2.297],[3434,2.31],[3446,2.285],[3459,2.285],[3472,2.285],[3484,2.285],[3497,2.297],[3509,2.322],[3524,2.546],[3532,2.422],[3542,2.385],[3555,2.36],[3568,2.31],[3578,2.16],[3585,2.123],[3593,2.198],[3600,2.223]];

const j6Commanded = [[0,0],[8,0.079],[20,0.105],[30,0.079],[41,-0.184],[51,-0.236],[63,-0.184],[76,-0.184],[89,-0.157],[101,-0.105],[114,-0.052],[127,-0.131],[139,-0.157],[152,-0.184],[159,-0.157],[170,0.105],[180,0.289],[195,0.315],[207,0.315],[220,0.341],[228,0.446],[235,0.341],[248,0.315],[258,0.367],[271,0.472],[281,0.315],[291,0.184],[304,0.131],[316,0.157],[329,0.21],[342,0.551],[349,0.525],[359,0.184],[372,0.131],[385,0.21],[397,0.21],[410,0.157],[420,-0.131],[430,-0.315],[440,-0.052],[450,-0.131],[463,-0.184],[476,-0.21],[486,-0.184],[493,0],[506,0.105],[519,0.105],[531,0.105],[544,0.131],[557,0.105],[569,0.131],[582,0.184],[595,0.131],[607,0.105],[620,0.105],[633,0.026],[645,-0.052],[658,-0.026],[671,-0.105],[683,-0.079],[696,-0.052],[708,-0.105],[721,-0.236],[734,-0.236],[746,-0.21],[759,-0.236],[772,-0.236],[784,-0.315],[797,-0.472],[805,-0.341],[812,-0.079],[822,-0.236],[835,-0.236],[848,-0.446],[860,-0.472],[873,-0.499],[886,-0.656],[898,-0.814],[906,-0.84],[916,-0.341],[929,-0.21],[941,0.105],[954,0.262],[967,0.367],[974,0.394],[982,0.262],[992,0.157],[1005,0.236],[1015,0],[1025,-0.236],[1035,-0.525],[1045,-0.892],[1055,-1.076],[1063,-0.997],[1073,-0.682],[1083,-0.735],[1093,-0.525],[1103,-0.446],[1113,-0.63],[1123,-0.709],[1134,-0.42],[1144,-0.079],[1154,-0.026],[1161,0.63],[1172,0.341],[1182,0.21],[1192,0.525],[1202,0.472],[1210,0.551],[1220,0.315],[1230,-0.105],[1240,-0.341],[1248,-0.656],[1258,-0.525],[1270,-0.551],[1283,-0.499],[1296,-0.525],[1308,-0.499],[1321,-0.499],[1334,-0.499],[1346,-0.551],[1359,-0.577],[1372,-0.656],[1384,-0.709],[1397,-0.735],[1409,-0.787],[1417,-0.735],[1430,-0.682],[1442,-0.367],[1452,-0.735],[1463,-0.84],[1475,-0.761],[1488,-0.709],[1501,-0.656],[1513,-0.577],[1526,-0.604],[1539,-0.551],[1546,-0.499],[1556,-0.604],[1569,-0.577],[1581,-0.604],[1594,-0.577],[1607,-0.551],[1619,-0.394],[1629,-0.052],[1640,-0.236],[1650,-0.446],[1662,-0.446],[1675,-0.394],[1688,-0.315],[1700,-0.289],[1713,-0.315],[1726,-0.341],[1736,-0.394],[1746,-0.262],[1759,-0.131],[1771,-0.236],[1784,-0.367],[1797,-0.262],[1809,-0.289],[1822,-0.21],[1835,-0.341],[1847,-0.184],[1860,-0.21],[1872,-0.157],[1885,-0.21],[1898,-0.21],[1910,-0.289],[1923,-0.341],[1936,-0.63],[1948,-0.892],[1961,-1.024],[1974,-1.076],[1986,-0.787],[1999,-0.709],[2012,-0.735],[2024,-0.682],[2037,-0.63],[2050,-0.577],[2062,-0.499],[2075,-0.525],[2088,-0.551],[2100,-0.577],[2113,-0.604],[2125,-0.63],[2138,-0.866],[2146,-1.339],[2153,-1.05],[2163,-0.971],[2176,-0.997],[2188,-1.207],[2201,-1.05],[2214,-1.024],[2226,-0.997],[2239,-0.919],[2252,-1.024],[2264,-1.181],[2277,-1.155],[2290,-1.286],[2302,-1.365],[2315,-1.312],[2328,-0.997],[2338,-0.604],[2348,-0.787],[2361,-0.735],[2373,-0.682],[2386,-0.63],[2399,-0.63],[2409,-0.551],[2422,-0.105],[2434,0],[2447,-0.052],[2459,-0.236],[2472,-0.21],[2485,-0.184],[2498,-0.184],[2510,-0.157],[2523,-0.105],[2536,-0.079],[2548,-0.131],[2561,-0.184],[2574,-0.157],[2586,-0.131],[2599,-0.052],[2612,0.052],[2624,0.079],[2637,0.131],[2650,0.131],[2662,0.21],[2675,0.341],[2688,0.262],[2698,0.236],[2708,-0.105],[2716,-0.105],[2726,0],[2738,-0.052],[2751,-0.026],[2763,0.026],[2776,0],[2789,-0.052],[2801,0],[2814,0.026],[2827,0.052],[2839,0.052],[2852,0.052],[2865,0.079],[2877,0.052],[2890,0.105],[2903,0.131],[2915,0.105],[2928,0.079],[2941,0.105],[2953,0.131],[2966,0.157],[2979,0.157],[2991,0.131],[3004,0.131],[3016,0.105],[3029,0.157],[3041,0.21],[3054,0.236],[3067,0.131],[3080,0.131],[3092,0.079],[3105,0.026],[3117,0.105],[3130,0.052],[3143,0.026],[3155,0.052],[3168,0.105],[3181,0.079],[3193,0.105],[3206,0.105],[3219,0.341],[3231,0.42],[3244,0.42],[3257,0.262],[3269,0.236],[3282,0.21],[3295,0.184],[3307,0.157],[3320,0.105],[3333,0.105],[3345,0.105],[3358,0.105],[3370,0.079],[3383,0.105],[3396,0.052],[3408,0],[3421,0.026],[3434,0.026],[3446,0],[3459,0],[3472,0.052],[3484,0.184],[3497,0.21],[3509,0.131],[3522,0.105],[3535,0.131],[3547,0.105],[3560,0.052],[3573,0.079],[3585,0.236],[3600,0.184]];
const j6Achieved = [[0,0],[8,0.079],[20,0.105],[30,0.079],[41,-0.184],[51,-0.236],[63,-0.184],[76,-0.184],[89,-0.157],[101,-0.105],[114,-0.052],[127,-0.131],[139,-0.157],[152,-0.184],[159,-0.157],[170,0.105],[180,0.289],[195,0.315],[207,0.315],[220,0.341],[228,0.446],[235,0.341],[248,0.315],[258,0.367],[271,0.472],[281,0.315],[291,0.184],[304,0.131],[316,0.157],[329,0.21],[342,0.551],[349,0.525],[359,0.184],[372,0.131],[385,0.21],[397,0.21],[410,0.157],[420,-0.131],[430,-0.315],[440,-0.052],[450,-0.131],[463,-0.184],[476,-0.21],[486,-0.184],[493,0],[506,0.105],[519,0.105],[531,0.105],[544,0.131],[557,0.105],[569,0.131],[582,0.184],[595,0.131],[607,0.105],[620,0.105],[633,0.026],[645,-0.052],[658,-0.026],[671,-0.105],[683,-0.079],[696,-0.052],[708,-0.105],[721,-0.236],[734,-0.236],[746,-0.21],[759,-0.236],[772,-0.236],[784,-0.315],[797,-0.472],[805,-0.341],[812,-0.079],[822,-0.236],[835,-0.236],[848,-0.446],[860,-0.472],[873,-0.499],[886,-0.656],[898,-0.814],[906,-0.84],[916,-0.341],[929,-0.21],[941,0.105],[954,0.262],[967,0.367],[974,0.394],[982,0.262],[992,0.157],[1005,0.236],[1015,0],[1025,-0.236],[1035,-0.525],[1045,-0.892],[1055,-1.076],[1063,-0.997],[1073,-0.682],[1083,-0.735],[1093,-0.525],[1103,-0.446],[1113,-0.63],[1123,-0.709],[1134,-0.42],[1144,-0.079],[1154,-0.026],[1161,0.63],[1172,0.341],[1182,0.21],[1192,0.525],[1202,0.472],[1210,0.551],[1220,0.315],[1230,-0.105],[1240,-0.341],[1248,-0.656],[1258,-0.525],[1270,-0.551],[1283,-0.499],[1296,-0.525],[1308,-0.499],[1321,-0.499],[1334,-0.499],[1346,-0.551],[1359,-0.577],[1372,-0.656],[1384,-0.709],[1397,-0.735],[1409,-0.787],[1417,-0.735],[1430,-0.682],[1442,-0.367],[1452,-0.735],[1463,-0.84],[1475,-0.761],[1488,-0.709],[1501,-0.656],[1513,-0.577],[1526,-0.604],[1539,-0.551],[1546,-0.499],[1556,-0.604],[1569,-0.577],[1581,-0.604],[1594,-0.577],[1607,-0.551],[1619,-0.394],[1629,-0.052],[1640,-0.236],[1650,-0.446],[1662,-0.446],[1675,-0.394],[1688,-0.315],[1700,-0.289],[1713,-0.315],[1726,-0.341],[1736,-0.394],[1746,-0.262],[1759,-0.131],[1771,-0.236],[1784,-0.367],[1797,-0.262],[1809,-0.289],[1822,-0.21],[1835,-0.341],[1847,-0.184],[1860,-0.21],[1872,-0.157],[1885,-0.21],[1898,-0.21],[1910,-0.289],[1923,-0.341],[1936,-0.63],[1948,-0.892],[1961,-1.024],[1974,-1.076],[1986,-0.787],[1999,-0.709],[2012,-0.735],[2024,-0.682],[2037,-0.63],[2050,-0.577],[2062,-0.499],[2075,-0.525],[2088,-0.551],[2100,-0.577],[2113,-0.604],[2125,-0.63],[2138,-0.866],[2146,-1.339],[2153,-1.05],[2163,-0.971],[2176,-0.997],[2188,-1.207],[2201,-1.05],[2214,-1.024],[2226,-0.997],[2239,-0.919],[2252,-1.024],[2264,-1.181],[2277,-1.155],[2290,-1.286],[2302,-1.365],[2315,-1.312],[2328,-0.997],[2338,-0.604],[2348,-0.787],[2361,-0.735],[2373,-0.682],[2386,-0.63],[2399,-0.63],[2409,-0.551],[2422,-0.105],[2434,0],[2447,-0.052],[2459,-0.236],[2472,-0.21],[2485,-0.184],[2498,-0.184],[2510,-0.157],[2523,-0.105],[2536,-0.079],[2548,-0.131],[2561,-0.184],[2574,-0.157],[2586,-0.131],[2599,-0.052],[2612,0.052],[2624,0.079],[2637,0.131],[2650,0.131],[2662,0.21],[2675,0.341],[2688,0.262],[2698,0.236],[2708,-0.105],[2716,-0.105],[2726,0],[2738,-0.052],[2751,-0.026],[2763,0.026],[2776,0],[2789,-0.052],[2801,0],[2814,0.026],[2827,0.052],[2839,0.052],[2852,0.052],[2865,0.079],[2877,0.052],[2890,0.105],[2903,0.131],[2915,0.105],[2928,0.079],[2941,0.105],[2953,0.131],[2966,0.157],[2979,0.157],[2991,0.131],[3004,0.131],[3016,0.105],[3029,0.157],[3041,0.21],[3054,0.236],[3067,0.131],[3080,0.131],[3092,0.079],[3105,0.026],[3117,0.105],[3130,0.052],[3143,0.026],[3155,0.052],[3168,0.105],[3181,0.079],[3193,0.105],[3206,0.105],[3219,0.341],[3231,0.42],[3244,0.42],[3257,0.262],[3269,0.236],[3282,0.21],[3295,0.184],[3307,0.157],[3320,0.105],[3333,0.105],[3345,0.105],[3358,0.105],[3370,0.079],[3383,0.105],[3396,0.052],[3408,0],[3421,0.026],[3434,0.026],[3446,0],[3459,0],[3472,0.052],[3484,0.184],[3497,0.21],[3509,0.131],[3522,0.105],[3535,0.131],[3547,0.105],[3560,0.052],[3573,0.079],[3585,0.236],[3600,0.184]];

// grip: [step where the value starts, value held until the next entry]
const gripCommanded = [[0,0],[136,1],[200,0],[322,1],[395,0],[563,1],[572,0],[582,1],[610,0],[665,1],[669,0],[689,1],[707,0],[900,1],[963,0],[1106,1],[1150,0],[1165,1],[1170,0],[1174,1],[1178,0],[1181,1],[1185,0],[1188,1],[1190,0],[1422,1],[1442,0],[1496,1],[1498,0],[1501,1],[1503,0],[1513,1],[1541,0],[1610,1],[1638,0],[1714,1],[1730,0],[1901,1],[1923,0],[2006,1],[2022,0],[2066,1],[2069,0],[2072,1],[2075,0],[2077,1],[2079,0],[2225,1],[2246,0],[2396,1],[2440,0],[2545,1],[2624,0],[2703,1],[2719,0],[2738,1],[2757,0],[2976,1],[2978,0],[3004,1],[3006,0],[3197,1],[3239,0],[3327,1],[3329,0],[3356,1],[3358,0],[3378,1],[3380,0],[3455,1],[3464,0],[3514,1],[3527,0],[3550,1],[3552,0],[3555,1],[3558,0],[3565,1],[3590,0],[3600,0]];
const gripAchieved = [[0,0],[138,0.34],[156,1],[202,0],[324,0.47],[396,0],[565,0.3],[575,0.1],[585,0.33],[602,1],[612,0],[666,0.25],[670,0],[690,0.3],[695,1],[709,0],[902,0.43],[964,0],[1108,0.36],[1150,1],[1192,0],[1424,1],[1444,0],[1500,0.05],[1502,0],[1515,1],[1543,0],[1612,1],[1640,0],[1712,0.35],[1718,1],[1732,0],[1903,0.3],[1912,1],[1926,0],[2008,1],[2024,0],[2070,0.3],[2076,1],[2083,0],[2227,1],[2248,0],[2398,1],[2442,0],[2547,0.34],[2570,0.32],[2590,0.35],[2605,0.33],[2626,0],[2705,0.2],[2720,0],[2740,1],[2759,0],[2977,0.2],[2979,0],[3005,0.5],[3007,0],[3199,1],[3241,0],[3457,0.78],[3466,0],[3516,1],[3529,0],[3555,0.3],[3567,1],[3592,0],[3600,0]];

// y tick values per panel
const j0Ticks = [-0.3, -0.2, -0.1, 0, 0.1, 0.2];
const j1Ticks = [-0.5, -0.25, 0, 0.25, 0.5];
const j2Ticks = [-0.2, 0, 0.2];
const j3Ticks = [-2.8, -2.6, -2.4, -2.2, -2.0];
const j4Ticks = [-0.6, -0.4, -0.2, 0, 0.2, 0.4];
const j5Ticks = [2.0, 2.2, 2.4, 2.6, 2.8];
const j6Ticks = [-1.5, -1.0, -0.5, 0, 0.5];
const gripTicks = [0, 0.2, 0.4, 0.6, 0.8, 1.0];

const panels = [
  { label: 'j0', cmd: j0Commanded, ach: j0Achieved, ticks: j0Ticks, dec: 1, min: -0.307, max: 0.289, labelX: 27 },
  { label: 'j1', cmd: j1Commanded, ach: j1Achieved, ticks: j1Ticks, dec: 2, min: -0.679, max: 0.623, labelX: 20 },
  { label: 'j2', cmd: j2Commanded, ach: j2Achieved, ticks: j2Ticks, dec: 1, min: -0.344, max: 0.316, labelX: 27 },
  { label: 'j3', cmd: j3Commanded, ach: j3Achieved, ticks: j3Ticks, dec: 1, min: -2.814, max: -1.833, labelX: 24 },
  { label: 'j4', cmd: j4Commanded, ach: j4Achieved, ticks: j4Ticks, dec: 1, min: -0.72, max: 0.416, labelX: 27 },
  { label: 'j5', cmd: j5Commanded, ach: j5Achieved, ticks: j5Ticks, dec: 1, min: 1.80, max: 2.86, labelX: 36 },
  { label: 'j6', cmd: j6Commanded, ach: j6Achieved, ticks: j6Ticks, dec: 1, min: -1.50, max: 0.74, labelX: 27 },
  { label: 'grip', cmd: gripCommanded, ach: gripAchieved, ticks: gripTicks, dec: 1, min: -0.05, max: 1.05, labelX: 36, stepped: true }
];

const panelTops = [50, 215, 381, 546, 711, 876, 1042, 1207];
const panelH = 142;
const padTop = 8;

Chart.defaults.font.family = "'DejaVu Sans', sans-serif";
Chart.defaults.color = '#000';

function fmtTick(v, dec) {
  const s = Math.abs(v).toFixed(dec);
  return (v < -1e-9 ? '\u2212' : '') + s;
}

// vertical chunk lines under the data, black frame on top
const chunkAndFrame = {
  id: 'chunkAndFrame',
  beforeDatasetsDraw(chart) {
    const { ctx, chartArea: a } = chart;
    const x = chart.scales.x;
    ctx.save();
    ctx.strokeStyle = 'rgba(0,0,0,0.15)';
    ctx.lineWidth = 1;
    ctx.beginPath();
    for (let s = 0; s < lastStep; s += chunkLen) {
      const px = Math.round(x.getPixelForValue(s)) + 0.5;
      ctx.moveTo(px, a.top);
      ctx.lineTo(px, a.bottom);
    }
    ctx.stroke();
    ctx.restore();
  },
  afterDatasetsDraw(chart) {
    const { ctx, chartArea: a } = chart;
    ctx.save();
    ctx.strokeStyle = '#000';
    ctx.lineWidth = 1;
    ctx.strokeRect(Math.round(a.left) - 0.5, Math.round(a.top) + 0.5,
                   Math.round(a.right - a.left) + 1, Math.round(a.bottom - a.top) - 1);
    ctx.restore();
  }
};

const legendBox = {
  id: 'legendBox',
  afterDraw(chart) {
    const { ctx, chartArea: a } = chart;
    const w = 234, h = 22;
    const left = a.right - 7 - w, top = a.top + 5.5;
    ctx.save();
    ctx.beginPath();
    if (ctx.roundRect) ctx.roundRect(left + 0.5, top + 0.5, w, h, 3);
    else ctx.rect(left + 0.5, top + 0.5, w, h);
    ctx.fillStyle = 'rgba(255,255,255,0.8)';
    ctx.fill();
    ctx.strokeStyle = '#cccccc';
    ctx.lineWidth = 1;
    ctx.stroke();
    const cy = top + 11.5;
    ctx.lineWidth = 1.5;
    ctx.strokeStyle = '#1f77b4';
    ctx.beginPath(); ctx.moveTo(left + 5, cy); ctx.lineTo(left + 28, cy); ctx.stroke();
    ctx.strokeStyle = '#ff7f0e';
    ctx.setLineDash([5.5, 2.4]);
    ctx.beginPath(); ctx.moveTo(left + 142, cy); ctx.lineTo(left + 165, cy); ctx.stroke();
    ctx.setLineDash([]);
    ctx.fillStyle = '#000';
    ctx.font = "11px 'DejaVu Sans', sans-serif";
    ctx.textBaseline = 'middle';
    ctx.fillText('commanded', left + 40, cy);
    ctx.fillText('achieved', left + 175, cy);
    ctx.restore();
  }
};

const fig = document.getElementById('fig');

panels.forEach((p, i) => {
  const last = i === panels.length - 1;
  const bottomH = last ? 50 : 10;
  const wrap = document.createElement('div');
  wrap.className = 'panel';
  wrap.style.top = (panelTops[i] - padTop) + 'px';
  wrap.style.height = (panelH + padTop + bottomH) + 'px';
  const canvas = document.createElement('canvas');
  wrap.appendChild(canvas);
  fig.appendChild(wrap);

  const toXY = arr => arr.map(d => ({ x: d[0], y: d[1] }));

  new Chart(canvas, {
    type: 'line',
    data: {
      datasets: [
        {
          label: 'achieved',
          data: toXY(p.ach),
          borderColor: '#ff7f0e',
          borderWidth: 1.5,
          borderDash: [5.5, 2.4],
          pointRadius: 0,
          stepped: p.stepped ? 'before' : false,
          tension: 0,
          order: 0
        },
        {
          label: 'commanded',
          data: toXY(p.cmd),
          borderColor: '#1f77b4',
          borderWidth: p.stepped ? 1.5 : 2.2,
          pointRadius: 0,
          stepped: p.stepped ? 'before' : false,
          tension: 0,
          order: 1
        }
      ]
    },
    options: {
      responsive: true,
      maintainAspectRatio: false,
      animation: false,
      events: [],
      layout: { padding: { top: padTop, right: 16, bottom: 0, left: 0 } },
      plugins: {
        legend: { display: false },
        tooltip: { enabled: false }
      },
      scales: {
        x: {
          type: 'linear',
          min: -180,
          max: 3780,
          afterBuildTicks: s => { s.ticks = xTicks.map(v => ({ value: v })); },
          afterFit: s => { s.height = bottomH; },
          border: { display: false },
          grid: { drawOnChartArea: false, drawTicks: true, tickLength: 5, color: '#000', lineWidth: 0.8 },
          ticks: {
            display: last,
            autoSkip: false,
            maxRotation: 0,
            padding: 3,
            font: { size: 8.5 },
            color: '#000',
            callback: v => String(v)
          },
          title: {
            display: last,
            text: 'sim step (vertical lines = new action chunk)',
            font: { size: 12.5 },
            color: '#000',
            padding: { top: 0, bottom: 9.5 }
          }
        },
        y: {
          min: p.min,
          max: p.max,
          afterBuildTicks: s => { s.ticks = p.ticks.map(v => ({ value: v })); },
          afterFit: s => { s.width = 77.5; },
          border: { display: false },
          grid: { drawOnChartArea: false, drawTicks: true, tickLength: 5, color: '#000', lineWidth: 0.8 },
          ticks: {
            autoSkip: false,
            padding: 5,
            font: { size: 8.5 },
            color: '#000',
            callback: v => fmtTick(v, p.dec)
          },
          title: {
            display: true,
            text: p.label,
            font: { size: 12.5 },
            color: '#000',
            padding: { top: p.labelX - 7.5, bottom: 0 }
          }
        }
      }
    },
    plugins: i === 0 ? [chunkAndFrame, legendBox] : [chunkAndFrame]
  });
});
</script>
</body>
</html>
